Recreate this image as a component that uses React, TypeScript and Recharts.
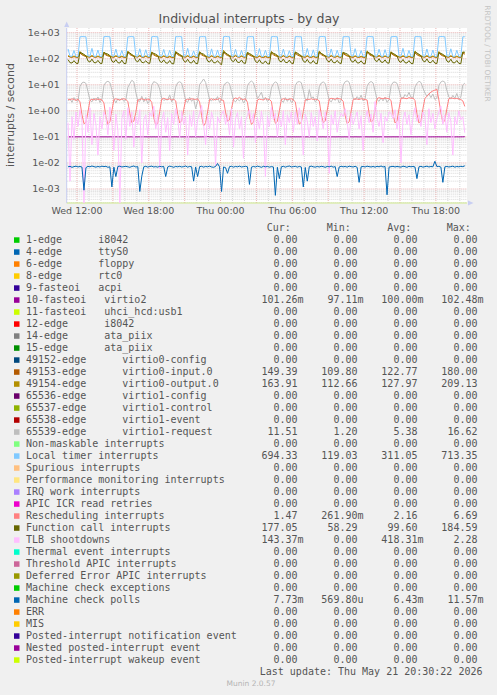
import React from 'react';
import { LineChart, Line, XAxis, YAxis, ReferenceLine } from 'recharts';

// samples every 10 minutes, starting Wed 11:15 (hours since Wed 00:00)
const START_HOUR = 11.25;
const STEP_HOUR = 1 / 6;

const X_TICKS = [12, 18, 24, 30, 36, 42];
const X_TICK_LABELS = ['Wed 12:00', 'Wed 18:00', 'Thu 00:00', 'Thu 06:00', 'Thu 12:00', 'Thu 18:00'];
const Y_TICKS = [1e-3, 1e-2, 1e-1, 1, 10, 100, 1000];
const Y_MIN = 2.9e-4;
const Y_MAX = 1.5e3;

const VIRTIO2 = [
  0.1, 0.0998, 0.1003, 0.0996, 0.1002, 0.1,
  0.1004, 0.0997, 0.1001, 0.0999, 0.1006, 0.0995, 0.1002, 0.1, 0.0998, 0.1003, 0.0997, 0.1001,
  0.0999, 0.1002, 0.0996, 0.1004, 0.1, 0.0998, 0.1005, 0.0997, 0.1001, 0.0999, 0.1003, 0.0996,
  0.1002, 0.0998, 0.1004, 0.0971, 0.1001, 0.0997, 0.1003, 0.0999, 0.1, 0.1005, 0.0996, 0.1002,
  0.0998, 0.1003, 0.0997, 0.1001, 0.1004, 0.0995, 0.1002, 0.1, 0.0999, 0.1003, 0.0998, 0.1001,
  0.1005, 0.0997, 0.1002, 0.0999, 0.1, 0.1003, 0.0996, 0.1001, 0.0998, 0.1004, 0.0999, 0.1002,
  0.0997, 0.1001, 0.1003, 0.0998, 0.1025, 0.0999, 0.1002, 0.0996, 0.1004, 0.1, 0.0998, 0.1003,
  0.1001, 0.0997, 0.1002, 0.1, 0.0999, 0.1005, 0.0996, 0.1003, 0.0998, 0.1001, 0.1004, 0.0997,
  0.0999, 0.1003, 0.0996, 0.1002, 0.1, 0.0998, 0.1004, 0.0997, 0.1001, 0.0999, 0.1002, 0.1,
  0.1003, 0.0998, 0.1001, 0.0997, 0.1005, 0.0999, 0.1002, 0.0996, 0.1003, 0.1, 0.0998, 0.1004,
  0.0997, 0.1002, 0.0999, 0.1003, 0.1, 0.0996, 0.1001, 0.0998, 0.1004, 0.0999, 0.1002, 0.0997,
  0.1001, 0.0999, 0.1004, 0.0996, 0.1002, 0.1, 0.0998, 0.1003, 0.0997, 0.1001, 0.1005, 0.0998,
  0.0999, 0.1003, 0.0997, 0.1001, 0.1002, 0.0996, 0.1004, 0.1, 0.0998, 0.1002, 0.0999, 0.1003,
  0.1002, 0.0998, 0.1001, 0.0999, 0.1004, 0.0997, 0.1, 0.1003, 0.0996, 0.1002, 0.0998, 0.1001,
  0.0997, 0.1003, 0.0999, 0.1002, 0.1, 0.0998, 0.1005, 0.0996, 0.1001, 0.0999, 0.1003, 0.0997,
  0.1001, 0.0998, 0.1004, 0.0999, 0.1002, 0.0996, 0.1003, 0.1, 0.0997, 0.1002, 0.0999, 0.1001,
  0.1003, 0.0997, 0.1, 0.1002, 0.0998, 0.1004, 0.0999, 0.1001, 0.0996, 0.1003, 0.0998, 0.1002,
  0.1003, 0.10126,
];

const INPUT0 = [
  124, 115, 113, 119, 114, 112,
  165, 141, 128, 121, 116, 114, 126, 115, 113, 120, 114, 112,
  158, 138, 127, 122, 115, 113, 124, 116, 112, 119, 113, 111,
  172, 144, 130, 123, 117, 115, 127, 114, 113, 121, 114, 112,
  160, 139, 126, 120, 115, 112, 123, 115, 111, 118, 112, 109.8,
  168, 142, 129, 122, 116, 114, 125, 114, 113, 120, 113, 112,
  163, 140, 127, 121, 115, 113, 124, 115, 112, 119, 114, 111,
  180, 147, 131, 124, 118, 115, 128, 116, 114, 122, 115, 113,
  156, 137, 125, 120, 114, 112, 122, 114, 111, 118, 112, 110,
  166, 141, 128, 122, 116, 114, 126, 115, 113, 120, 114, 112,
  161, 139, 127, 121, 115, 113, 124, 114, 112, 119, 113, 111,
  170, 143, 129, 123, 117, 114, 126, 116, 113, 121, 114, 112,
  159, 138, 126, 120, 115, 112, 123, 114, 112, 118, 113, 111,
  174, 145, 130, 124, 117, 115, 127, 116, 114, 122, 115, 113,
  162, 140, 127, 121, 115, 113, 124, 115, 112, 119, 113, 112,
  167, 142, 128, 122, 116, 114, 125, 114, 113, 120, 114, 111,
  164, 140, 127, 121, 115, 113, 124, 115, 112, 119, 113, 112,
  158, 149.39,
];

const OUTPUT0 = [
  131, 119, 117, 126, 118, 116,
  188, 152, 136, 128, 121, 118, 132, 119, 117, 126, 118, 116,
  180, 148, 134, 127, 120, 117, 130, 120, 116, 125, 117, 115,
  195, 156, 138, 129, 122, 119, 134, 118, 117, 127, 118, 116,
  182, 149, 133, 126, 119, 116, 129, 119, 115, 124, 116, 114,
  192, 154, 137, 129, 121, 118, 131, 118, 117, 126, 117, 116,
  186, 151, 135, 127, 120, 117, 130, 119, 116, 125, 118, 115,
  209.13, 160, 140, 131, 123, 119, 135, 120, 118, 128, 119, 117,
  178, 147, 132, 126, 118, 116, 128, 118, 115, 124, 116, 112.66,
  190, 153, 136, 128, 121, 118, 132, 119, 117, 126, 118, 116,
  184, 150, 134, 127, 120, 117, 130, 118, 116, 125, 117, 115,
  197, 157, 138, 130, 122, 118, 133, 120, 117, 127, 118, 116,
  181, 148, 133, 126, 119, 116, 129, 118, 116, 124, 117, 115,
  200, 158, 139, 131, 123, 119, 134, 120, 118, 128, 119, 117,
  185, 151, 135, 127, 120, 117, 130, 119, 116, 125, 117, 116,
  193, 155, 137, 129, 121, 118, 131, 118, 117, 126, 118, 115,
  187, 152, 135, 128, 120, 117, 130, 119, 116, 125, 117, 116,
  176, 163.91,
];

const REQUEST = [
  2.4, 2.9, 2.1, 3.2, 2.5, 2.3,
  8.5, 11.8, 12.6, 11.2, 5.5, 2.6, 2.2, 3.1, 2.4, 3.4, 2.1, 2.7,
  9.2, 12.4, 13.5, 12.1, 6.2, 2.8, 2.0, 2.9, 2.5, 3.0, 2.3, 2.6,
  7.8, 11.0, 14.8, 12.9, 5.1, 2.4, 2.3, 3.6, 2.2, 3.2, 1.9, 2.5,
  9.6, 13.1, 12.2, 10.8, 6.8, 3.0, 2.5, 2.7, 2.6, 4.1, 2.2, 2.8,
  8.1, 12.0, 13.0, 11.5, 5.8, 2.5, 2.1, 3.3, 2.3, 2.9, 1.2, 2.4,
  10.2, 12.8, 16.62, 12.3, 6.0, 2.7, 2.4, 3.0, 2.5, 3.5, 2.1, 2.6,
  8.8, 11.5, 12.4, 11.0, 5.3, 2.6, 2.2, 2.8, 2.4, 3.1, 2.0, 2.5,
  9.0, 12.2, 13.8, 11.9, 6.5, 2.9, 3.8, 5.2, 2.7, 3.3, 2.3, 2.7,
  7.5, 10.8, 12.9, 11.4, 5.6, 2.5, 2.1, 3.2, 2.3, 3.0, 2.1, 2.4,
  9.4, 12.6, 13.2, 12.0, 6.1, 2.8, 2.4, 6.5, 3.1, 3.4, 2.2, 2.6,
  8.3, 11.6, 12.8, 11.1, 5.4, 2.6, 2.2, 3.0, 2.5, 3.2, 2.0, 2.5,
  9.7, 13.0, 14.1, 12.4, 6.3, 3.1, 2.6, 3.5, 2.8, 4.0, 2.4, 2.9,
  8.6, 11.9, 13.3, 11.7, 5.7, 2.7, 2.3, 3.1, 2.4, 3.3, 2.1, 2.6,
  9.1, 12.3, 12.7, 11.3, 6.4, 3.2, 3.0, 4.2, 3.5, 5.1, 3.3, 2.9,
  8.0, 11.2, 13.6, 12.2, 7.5, 4.8, 3.6, 4.5, 3.2, 4.4, 2.7, 3.1,
  9.5, 12.7, 13.9, 12.5, 6.0, 3.4, 2.8, 3.9, 3.0, 4.6, 2.8, 3.3,
  9.8, 11.51,
];

const LOCAL_TIMER = [
  236, 124, 122, 205, 121, 120,
  688, 702, 697, 690, 126, 124, 248, 123, 121, 214, 122, 120,
  695, 708, 700, 693, 127, 125, 232, 122, 124, 205, 121, 123,
  682, 699, 704, 688, 125, 123, 240, 121, 120, 220, 123, 119.03,
  690, 710, 695, 692, 128, 124, 226, 125, 122, 209, 120, 122,
  701, 694, 706, 689, 124, 126, 251, 121, 123, 198, 122, 121,
  687, 703, 699, 696, 126, 122, 238, 124, 121, 216, 121, 120,
  693, 713.35, 701, 690, 125, 125, 229, 122, 120, 207, 123, 121,
  685, 698, 702, 694, 127, 123, 244, 121, 122, 212, 120, 122,
  692, 705, 697, 688, 124, 124, 233, 123, 121, 201, 122, 121,
  699, 700, 693, 691, 126, 125, 247, 122, 120, 218, 121, 123,
  688, 707, 704, 695, 125, 122, 236, 124, 123, 210, 120, 121,
  694, 696, 700, 689, 128, 126, 242, 121, 122, 204, 123, 120,
  690, 709, 698, 693, 124, 123, 230, 125, 121, 222, 121, 122,
  686, 701, 705, 690, 127, 125, 249, 122, 120, 206, 122, 121,
  697, 703, 696, 692, 125, 124, 235, 121, 123, 214, 120, 122,
  691, 706, 702, 688, 126, 122, 239, 123, 121, 209, 122, 121,
  690, 694.33,
];

const RESCHED = [
  2.8, 2.6, 2.9, 2.7, 2.5, 2.8,
  2.2, 0.7, 0.32, 0.36, 0.9, 2.5, 2.8, 2.6, 2.9, 2.7, 2.8, 2.6,
  2.0, 0.6, 0.3, 0.38, 1.0, 2.7, 2.9, 2.7, 2.6, 2.8, 2.9, 2.7,
  2.3, 0.8, 0.35, 0.4, 0.85, 2.6, 2.7, 2.9, 2.7, 2.6, 2.8, 2.7,
  2.1, 0.55, 0.28, 0.33, 0.95, 2.8, 3.0, 2.8, 2.7, 2.9, 2.6, 2.8,
  2.4, 0.75, 0.34, 0.42, 1.1, 2.6, 2.8, 2.7, 2.9, 2.8, 2.7, 2.9,
  2.2, 0.65, 0.2619, 0.35, 0.9, 2.7, 2.9, 2.6, 2.8, 2.7, 3.0, 2.6,
  2.5, 0.9, 0.4, 0.45, 1.2, 2.8, 3.1, 2.9, 3.3, 2.8, 2.7, 2.9,
  2.1, 0.6, 0.3, 0.37, 0.9, 2.6, 2.8, 2.7, 2.6, 2.9, 2.8, 2.7,
  2.3, 0.7, 0.33, 0.39, 1.0, 2.7, 2.9, 2.8, 2.7, 2.8, 2.9, 2.6,
  2.2, 0.68, 0.31, 0.36, 0.95, 2.6, 2.8, 2.7, 2.9, 2.7, 2.8, 2.7,
  2.4, 0.72, 0.35, 0.41, 1.05, 2.8, 3.0, 2.9, 2.8, 3.0, 2.9, 2.8,
  2.3, 0.66, 0.32, 0.38, 0.98, 2.7, 2.9, 2.8, 2.7, 2.9, 2.8, 2.7,
  2.6, 0.8, 0.37, 0.43, 1.1, 2.9, 3.2, 3.0, 2.9, 3.1, 3.0, 2.9,
  2.5, 0.74, 0.34, 0.4, 1.2, 3.0, 3.1, 3.0, 2.9, 3.2, 3.0, 3.1,
  2.5, 0.74, 0.34, 0.4, 1.2, 3.0, 3.6, 4.4, 5.2, 5.8, 6.2, 6.69,
  2.6, 0.85, 0.36, 0.42, 1.2, 2.9, 3.1, 3.0, 2.9, 3.0, 2.8, 2.7,
  2.4, 1.47,
];

const FUNC_CALL = [
  92, 70, 68, 84, 67, 65,
  176, 162, 146, 128, 82, 74, 96, 71, 69, 86, 67, 65,
  172, 158, 150, 131, 80, 72, 92, 70, 68, 88, 66, 64,
  180, 165, 144, 126, 84, 75, 98, 72, 70, 83, 68, 66,
  170, 160, 148, 132, 79, 71, 90, 69, 67, 85, 65, 63,
  178, 163, 145, 129, 83, 73, 95, 71, 68, 87, 66, 64,
  174, 159, 149, 127, 81, 74, 93, 70, 69, 84, 67, 58.29,
  182, 166, 147, 130, 85, 76, 99, 73, 71, 89, 68, 66,
  171, 157, 143, 125, 78, 70, 91, 68, 66, 82, 64, 62,
  177, 161, 150, 133, 82, 75, 97, 72, 70, 88, 67, 65,
  175, 164, 146, 128, 80, 72, 94, 70, 67, 85, 66, 64,
  179, 160, 144, 126, 84, 74, 96, 71, 69, 86, 68, 65,
  173, 162, 151, 131, 81, 73, 92, 69, 68, 83, 65, 63,
  181, 167, 149, 134, 86, 77, 100, 74, 72, 90, 69, 67,
  176, 158, 145, 127, 80, 72, 93, 70, 68, 84, 66, 64,
  184.59, 165, 148, 130, 83, 75, 98, 72, 70, 87, 67, 65,
  172, 159, 146, 128, 81, 73, 95, 70, 69, 85, 66, 64,
  180, 177.05,
];

const TLB = [
  0.35, 0.002, 0.6, 0.08, 0.9, 0.25,
  1.1, 0.4, 0, 0.7, 0.15, 1.3, 0.05, 0.8, 0.3, 0.02, 0.6, 0.2,
  0.9, 0.6, 0.12, 1.4, 0.35, 0.03, 0.75, 0.18, 0, 0.5, 1.0, 0.08,
  1.3, 0.25, 0.9, 0.04, 0.6, 0.3, 1.1, 0.01, 0.45, 0.7, 0.12, 0.85,
  0.6, 1.5, 0.2, 0.7, 0.006, 0.4, 0.9, 0.15, 0.55, 0.03, 0.8, 0.3,
  1.2, 0.5, 0.09, 0.95, 0.3, 0.6, 0.02, 0.7, 0.25, 1.0, 0.1, 0.45,
  0.8, 1.6, 0.3, 0.05, 0.65, 0.2, 0.9, 0.4, 0.008, 0.6, 0.35, 0.75,
  1.0, 0.3, 0.7, 0.12, 1.2, 0.04, 0.5, 0.85, 0.2, 0.6, 0.015, 0.4,
  0.7, 1.1, 0.35, 0.8, 0.06, 0.55, 0.2, 0.95, 0.3, 0.003, 0.65, 0.25,
  1.4, 0.45, 0.8, 0.1, 0.6, 0.25, 1.0, 0.05, 0.7, 0.35, 0.9, 0.15,
  0.9, 0.3, 1.3, 0.5, 0.02, 0.75, 0.4, 0.1, 0.85, 0.25, 0.6, 0.07,
  1.1, 0.6, 0.2, 0.9, 0.35, 0.004, 0.7, 0.3, 1.0, 0.15, 0.5, 0.8,
  0.6, 1.2, 0.4, 0.08, 0.8, 0.3, 0.55, 0.9, 0.2, 0.65, 0.03, 0.45,
  1.0, 0.35, 0.75, 0.15, 2.28, 0.5, 0.25, 0.8, 0.06, 0.6, 0.4, 0.9,
  0.8, 0.5, 1.1, 0.2, 0.65, 0.01, 0.45, 0.9, 0.3, 0.7, 0.12, 0.55,
  1.3, 0.4, 0.7, 0.25, 0.9, 0.6, 0.05, 1.2, 0.35, 0.8, 0.2, 0.5,
  0.9, 1.5, 0.3, 0.7, 0.15, 0.85, 0.4, 0.02, 0.6, 0.3, 1.0, 0.45,
  0.6, 0.14337,
];

const MCE_POLL = [
  0.0071, 0.0074, 0.0068, 0.0072, 0.0075, 0.0070,
  0.0073, 0.0069, 0.0009, 0.0066, 0.0074, 0.0071, 0.0076, 0.0072, 0.0069, 0.0073, 0.0070, 0.0075,
  0.0072, 0.0074, 0.0068, 0.0071, 0.0012, 0.0069, 0.0030, 0.0073, 0.0075, 0.0070, 0.0072, 0.0074,
  0.0071, 0.0068, 0.0073, 0.0076, 0.0070, 0.0072, 0.0008, 0.0031, 0.0071, 0.0074, 0.0069, 0.0073,
  0.0075, 0.0070, 0.0072, 0.0069, 0.0074, 0.0071, 0.0073, 0.0030, 0.0070, 0.0075, 0.0072, 0.0068,
  0.0073, 0.0071, 0.0074, 0.0070, 0.0072, 0.0076, 0.0069, 0.0073, 0.0071, 0.0020, 0.0070, 0.0030,
  0.0072, 0.0074, 0.0069, 0.0073, 0.0071, 0.0075, 0.0070, 0.0068, 0.0073, 0.0095, 0.0071, 0.0008,
  0.0070, 0.0066, 0.0040, 0.0072, 0.0074, 0.0069, 0.0073, 0.0071, 0.0075, 0.0070, 0.0072, 0.0074,
  0.0071, 0.0015, 0.0069, 0.0073, 0.0070, 0.0075, 0.0072, 0.0068, 0.0074, 0.0071, 0.0073, 0.0069,
  0.0072, 0.0070, 0.00057, 0.0068, 0.0025, 0.0071, 0.0074, 0.0069, 0.0073, 0.0076, 0.0070, 0.0072,
  0.0074, 0.0069, 0.0073, 0.0070, 0.0012, 0.0067, 0.0020, 0.0072, 0.0075, 0.0071, 0.0069, 0.0073,
  0.0070, 0.0074, 0.0072, 0.0068, 0.0073, 0.0071, 0.0075, 0.0069, 0.0072, 0.0030, 0.0070, 0.0074,
  0.0071, 0.0073, 0.0069, 0.0075, 0.0072, 0.0070, 0.0074, 0.0068, 0.0018, 0.0071, 0.0073, 0.0070,
  0.0075, 0.0072, 0.0070, 0.0073, 0.0069, 0.0074, 0.0071, 0.0076, 0.0070, 0.0073, 0.0006, 0.0069,
  0.0072, 0.0074, 0.0070, 0.0073, 0.0071, 0.0069, 0.0075, 0.0072, 0.0068, 0.0074, 0.0071, 0.0073,
  0.0070, 0.0025, 0.0071, 0.0074, 0.0069, 0.0072, 0.0075, 0.0070, 0.0073, 0.0071, 0.01157, 0.0072,
  0.0074, 0.0069, 0.0018, 0.0071, 0.0073, 0.0070, 0.0072, 0.0075, 0.0069, 0.0073, 0.0071, 0.0074,
  0.0072, 0.00773,
];

// drawn in legend order, later ones on top
const SERIES = [
  { key: 'virtio2', values: VIRTIO2, color: '#990099' },
  { key: 'input0', values: INPUT0, color: '#B35A00' },
  { key: 'output0', values: OUTPUT0, color: '#B38F00' },
  { key: 'request', values: REQUEST, color: '#BEBEBE' },
  { key: 'localTimer', values: LOCAL_TIMER, color: '#80C9FF' },
  { key: 'resched', values: RESCHED, color: '#FF8080' },
  { key: 'funcCall', values: FUNC_CALL, color: '#666600' },
  { key: 'tlb', values: TLB, color: '#FFBFFF' },
  { key: 'mcePoll', values: MCE_POLL, color: '#0066B3' },
];

const LEGEND_NAMES = [
  '1-edge      i8042', '4-edge      ttyS0', '6-edge      floppy', '8-edge      rtc0',
  '9-fasteoi   acpi', '10-fasteoi   virtio2', '11-fasteoi   uhci_hcd:usb1', '12-edge      i8042',
  '14-edge      ata_piix', '15-edge      ata_piix', '49152-edge      virtio0-config',
  '49153-edge      virtio0-input.0', '49154-edge      virtio0-output.0', '65536-edge      virtio1-config',
  '65537-edge      virtio1-control', '65538-edge      virtio1-event', '65539-edge      virtio1-request',
  'Non-maskable interrupts', 'Local timer interrupts', 'Spurious interrupts',
  'Performance monitoring interrupts', 'IRQ work interrupts', 'APIC ICR read retries',
  'Rescheduling interrupts', 'Function call interrupts', 'TLB shootdowns', 'Thermal event interrupts',
  'Threshold APIC interrupts', 'Deferred Error APIC interrupts', 'Machine check exceptions',
  'Machine check polls', 'ERR', 'MIS', 'Posted-interrupt notification event',
  'Nested posted-interrupt event', 'Posted-interrupt wakeup event',
];

const LEGEND_COLORS = [
  '#00CC00', '#0066B3', '#FF8000', '#FFCC00', '#330099', '#990099', '#CCFF00', '#FF0000',
  '#808080', '#008F00', '#00487D', '#B35A00', '#B38F00', '#6B006B', '#8FB300', '#B30000',
  '#BEBEBE', '#80FF80', '#80C9FF', '#FFC080', '#FFE680', '#AA80FF', '#EE00CC', '#FF8080',
  '#666600', '#FFBFFF', '#00FFCC', '#CC6699', '#999900', '#00CC00', '#0066B3', '#FF8000',
  '#FFCC00', '#330099', '#990099', '#CCFF00',
];

const Z = '0.00';
const CUR = [Z, Z, Z, Z, Z, '101.26m', Z, Z, Z, Z, Z, '149.39', '163.91', Z, Z, Z, '11.51', Z, '694.33', Z, Z, Z, Z, '1.47', '177.05', '143.37m', Z, Z, Z, Z, '7.73m', Z, Z, Z, Z, Z];
const MIN = [Z, Z, Z, Z, Z, '97.11m', Z, Z, Z, Z, Z, '109.80', '112.66', Z, Z, Z, '1.20', Z, '119.03', Z, Z, Z, Z, '261.90m', '58.29', Z, Z, Z, Z, Z, '569.80u', Z, Z, Z, Z, Z];
const AVG = [Z, Z, Z, Z, Z, '100.00m', Z, Z, Z, Z, Z, '122.77', '127.97', Z, Z, Z, '5.38', Z, '311.05', Z, Z, Z, Z, '2.16', '99.60', '418.31m', Z, Z, Z, Z, '6.43m', Z, Z, Z, Z, Z];
const MAX = [Z, Z, Z, Z, Z, '102.48m', Z, Z, Z, Z, Z, '180.00', '209.13', Z, Z, Z, '16.62', Z, '713.35', Z, Z, Z, Z, '6.69', '184.59', '2.28', Z, Z, Z, Z, '11.57m', Z, Z, Z, Z, Z];

const data = LOCAL_TIMER.map((_, i) => {
  const row: Record<string, number> = { t: START_HOUR + i * STEP_HOUR };
  SERIES.forEach((s) => {
    // zero can't sit on a log axis: park it on the bottom edge
    row[s.key] = s.values[i] > 0 ? s.values[i] : Y_MIN;
  });
  return row;
});

const minorY: number[] = [];
for (let e = -4; e <= 2; e++) {
  for (let m = 2; m <= 9; m++) {
    const v = m * Math.pow(10, e);
    if (v > Y_MIN && v < Y_MAX) minorY.push(v);
  }
}
const hours: number[] = [];
for (let h = 12; h <= 44; h++) hours.push(h);

const fmtExp = (v: number) => {
  const e = Math.round(Math.log10(v));
  return '1e' + (e < 0 ? '-' : '+') + String(Math.abs(e)).padStart(2, '0');
};

const MONO = "'DejaVu Sans Mono', monospace";
const SANS = "'DejaVu Sans', sans-serif";
const TXT = '#555';

const CHART_W = 497;
const CHART_H = 230;
const MARGIN = { top: 28, right: 30, bottom: 0, left: 0 };

// shared axes; `show` decides whether this copy draws ticks and axis lines
function Axes(show: boolean) {
  return [
    <XAxis
      key="x"
      dataKey="t"
      type="number"
      domain={[11.14, 44.6]}
      allowDataOverflow
      ticks={X_TICKS}
      tickFormatter={(v: number) => X_TICK_LABELS[X_TICKS.indexOf(v)]}
      height={27}
      tickLine={false}
      tickSize={2}
      tickMargin={2}
      axisLine={show ? { stroke: '#D2EC8E' } : false}
      tick={show ? { fontSize: 9.5, fill: TXT, fontFamily: SANS } : false}
    />,
    <YAxis
      key="y"
      scale="log"
      domain={[Y_MIN, Y_MAX]}
      allowDataOverflow
      ticks={Y_TICKS}
      tickFormatter={fmtExp}
      width={66.7}
      tickLine={false}
      tickSize={5}
      tickMargin={2}
      axisLine={show ? { stroke: '#C8CEF2' } : false}
      tick={show ? { fontSize: 9.5, fill: TXT, fontFamily: SANS } : false}
    />,
  ];
}

export default function App() {
  const withSuffix = (s: string) => (/[a-zA-Z]$/.test(s) ? s : s + '\u00a0');
  return (
    <div style={{ position: 'absolute', left: 0, top: 0, width: 497, height: 695, background: '#F0F0F0', overflow: 'hidden' }}>
      <div style={{ position: 'absolute', left: 66.7, top: 28, width: 400.3, height: 175, background: '#FFFFFF' }} />
      {/* grid layer, underneath the series */}
      <div style={{ position: 'absolute', left: 0, top: 0 }}>
        <LineChart width={CHART_W} height={CHART_H} data={data} margin={MARGIN}>
          {Axes(true)}
          {minorY.map((v) => (
            <ReferenceLine key={'my' + v} y={v} stroke="#D6D6D6" strokeDasharray="1 1" />
          ))}
          {hours.map((h) => (
            <ReferenceLine key={'vx' + h} x={h} stroke={h % 3 === 0 ? '#E9B4B4' : '#D6D6D6'} strokeDasharray="1 1" />
          ))}
          {Y_TICKS.map((v) => (
            <ReferenceLine key={'My' + v} y={v} stroke="#E9B4B4" strokeDasharray="1 1" />
          ))}
        </LineChart>
      </div>
      <div style={{ position: 'absolute', left: 0, top: 0 }}>
        <LineChart width={CHART_W} height={CHART_H} data={data} margin={MARGIN}>
          {Axes(false)}
          {SERIES.map((s) => (
            <Line
              key={s.key}
              dataKey={s.key}
              type="linear"
              stroke={s.color}
              strokeWidth={1}
              dot={false}
              activeDot={false}
              isAnimationActive={false}
            />
          ))}
        </LineChart>
      </div>
      <svg width={497} height={695} style={{ position: 'absolute', left: 0, top: 0, pointerEvents: 'none' }}>
        <text x={249} y={23} textAnchor="middle" fontFamily={SANS} fontSize={12.5} fill="#505050">
          Individual interrupts - by day
        </text>
        <text x={14} y={115} textAnchor="middle" fontFamily={SANS} fontSize={11} fill={TXT} transform="rotate(-90 14 115)">
          interrupts / second
        </text>
        <text x={484.5} y={53.5} textAnchor="middle" fontFamily={SANS} fontSize={7.5} fill="#C4C4C4" transform="rotate(90 484.5 53.5)">
          RRDTOOL / TOBI OETIKER
        </text>
        <polygon points="66.7,21.5 64.2,27 69.2,27" fill="#C8CEF2" />
        <polygon points="473.5,203 468,200.5 468,205.5" fill="#C8CEF2" />
        <g fontFamily={MONO} fontSize={10} fill={TXT}>
          <text x={290.8} y={231.3} textAnchor="end">Cur:</text>
          <text x={350.8} y={231.3} textAnchor="end">Min:</text>
          <text x={411.3} y={231.3} textAnchor="end">Avg:</text>
          <text x={470.8} y={231.3} textAnchor="end">Max:</text>
          {LEGEND_NAMES.map((name, r) => {
            const y = 243.3 + r * 12;
            return (
              <g key={name + r}>
                <rect x={14} y={y - 6} width={5.5} height={5.5} fill={LEGEND_COLORS[r]} />
                <text x={26} y={y} xmlSpace="preserve">{name.replace(/ /g, '\u00a0')}</text>
                <text x={303.6} y={y} textAnchor="end" xmlSpace="preserve">{withSuffix(CUR[r])}</text>
                <text x={363.5} y={y} textAnchor="end" xmlSpace="preserve">{withSuffix(MIN[r])}</text>
                <text x={423.5} y={y} textAnchor="end" xmlSpace="preserve">{withSuffix(AVG[r])}</text>
                <text x={483.5} y={y} textAnchor="end" xmlSpace="preserve">{withSuffix(MAX[r])}</text>
              </g>
            );
          })}
          <text x={482.5} y={675.3} textAnchor="end">Last update: Thu May 21 20:30:22 2026</text>
        </g>
        <text x={251} y={686} textAnchor="middle" fontFamily={SANS} fontSize={7.5} fill="#B4B4B4">
          Munin 2.0.57
        </text>
      </svg>
    </div>
  );
}
